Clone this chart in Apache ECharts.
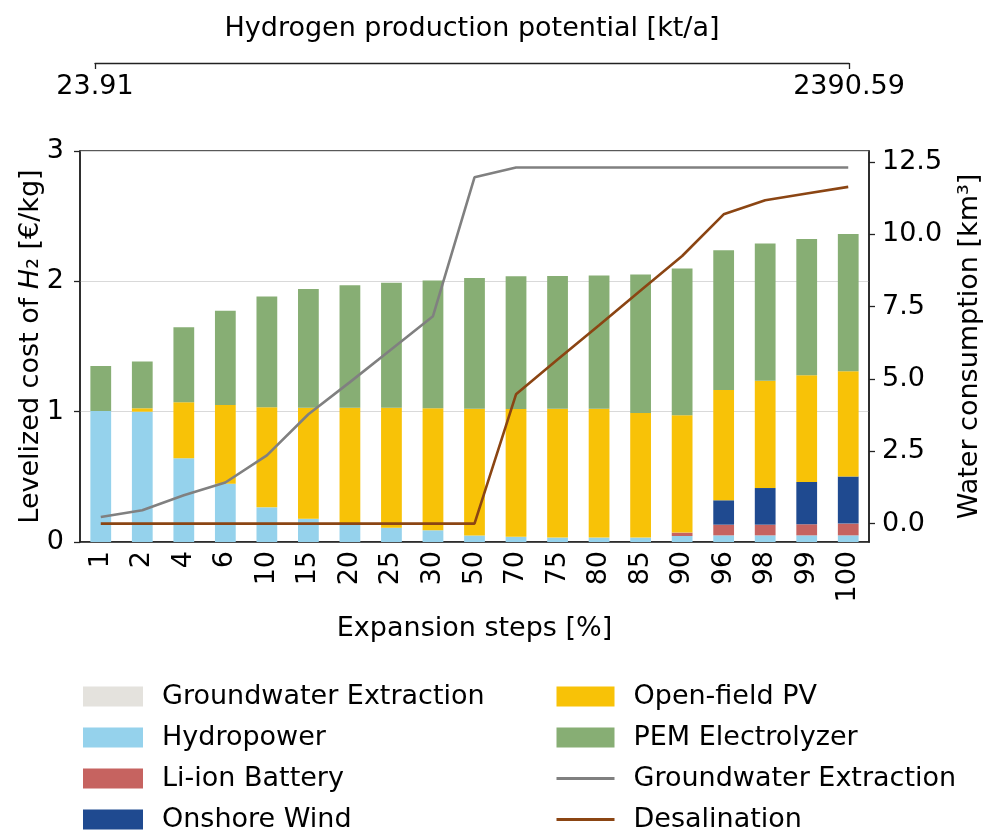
<!DOCTYPE html>
<html>
<head>
    <meta charset="utf-8">
    <title>LCOH expansion steps</title>
    <script src="https://cdn.jsdelivr.net/npm/echarts@6/dist/echarts.min.js"></script>
</head>
<body style="margin:0;background:#fff;">
    <div id="chart" style="width:983px;height:830px;"></div>

<script>
    // expansion steps [%]
    var steps = ['1', '2', '4', '6', '10', '15', '20', '25', '30', '50', '70', '75', '80', '85', '90', '96', '98', '99', '100'];

    // cost components [EUR/kg], stacked from bottom to top
    var groundwaterCost = [0, 0, 0, 0, 0, 0, 0, 0, 0, 0, 0, 0, 0, 0, 0, 0, 0, 0, 0];
    var hydropower = [1.005, 1.0, 0.642, 0.447, 0.266, 0.179, 0.14, 0.11, 0.09, 0.05, 0.04, 0.034, 0.034, 0.034, 0.046, 0.051, 0.051, 0.051, 0.051];
    var battery = [0, 0, 0, 0, 0, 0, 0, 0, 0, 0, 0, 0, 0, 0, 0.026, 0.082, 0.082, 0.085, 0.09];
    var onshoreWind = [0, 0, 0, 0, 0, 0, 0, 0, 0, 0, 0, 0, 0, 0, 0, 0.187, 0.281, 0.324, 0.361];
    var openFieldPV = [0, 0.026, 0.43, 0.604, 0.768, 0.852, 0.89, 0.92, 0.936, 0.973, 0.98, 0.989, 0.989, 0.956, 0.90, 0.846, 0.824, 0.819, 0.808];
    var pemElectrolyzer = [0.345, 0.358, 0.575, 0.724, 0.849, 0.91, 0.94, 0.96, 0.98, 1.003, 1.019, 1.018, 1.021, 1.062, 1.126, 1.072, 1.052, 1.046, 1.053];

    // water consumption [km3]
    var groundwaterWater = [0.23, 0.46, 0.98, 1.42, 2.36, 3.78, 4.89, 6.03, 7.17, 11.97, 12.31, 12.31, 12.31, 12.31, 12.31, 12.31, 12.31, 12.31, 12.31];
    var desalination = [0, 0, 0, 0, 0, 0, 0, 0, 0, 0, 4.47, 5.67, 6.86, 8.06, 9.25, 10.69, 11.18, 11.41, 11.64];

    // top axis: hydrogen production potential [kt/a]
    var h2Range = [23.91, 2390.59];
    var waterTicks = [0, 2.5, 5, 7.5, 10, 12.5];

    var font = 'DejaVu Sans';
    var fs = 27;

    function barSeries(name, data, color) {
        return {
            name: name,
            type: 'bar',
            stack: 'cost',
            barWidth: '50%',
            data: data,
            itemStyle: { color: color }
        };
    }

    // line entries in the legend: plain stroke, no marker
    var noMarker = { color: 'rgba(0,0,0,0)', borderColor: 'rgba(0,0,0,0)', borderWidth: 0 };

    var legendText = { fontSize: fs, color: '#000', lineHeight: 27, padding: [0, 0, 0, 14] };

    var chart = echarts.init(document.getElementById('chart'));
    chart.setOption({
        animation: false,
        textStyle: { fontFamily: font, color: '#000' },
        grid: [
            { left: 80, top: 151, width: 789, height: 391, outerBoundsMode: 'none', show: true, borderColor: '#222', borderWidth: 1.5 },
            { left: 95, top: 63, width: 754, height: 30, outerBoundsMode: 'none' }
        ],
        xAxis: [
            {
                type: 'category',
                data: steps,
                gridIndex: 0,
                name: 'Expansion steps [%]',
                nameLocation: 'middle',
                nameGap: 73,
                nameTextStyle: { fontSize: fs, color: '#000' },
                axisLine: { lineStyle: { color: '#222', width: 1.5 } },
                axisTick: { alignWithLabel: true, length: 6, lineStyle: { color: '#222', width: 1.3 } },
                axisLabel: { rotate: 90, fontSize: fs, color: '#000', margin: 9, interval: 0 }
            },
            {
                type: 'value',
                gridIndex: 1,
                position: 'top',
                min: h2Range[0],
                max: h2Range[1],
                name: 'Hydrogen production potential [kt/a]',
                nameLocation: 'middle',
                nameGap: 21,
                nameTextStyle: { fontSize: fs, color: '#000' },
                splitLine: { show: false },
                axisLine: { show: true, onZero: false, lineStyle: { color: '#222', width: 1.3 } },
                axisTick: { show: true, inside: true, length: 6, customValues: h2Range, lineStyle: { color: '#222', width: 1.3 } },
                axisLabel: {
                    inside: true, margin: 10, fontSize: fs, color: '#000',
                    customValues: h2Range,
                    formatter: function (v) { return v.toFixed(2); }
                }
            }
        ],
        yAxis: [
            {
                type: 'value',
                gridIndex: 0,
                min: 0,
                max: 3,
                interval: 1,
                name: 'Levelized cost of {i|H}₂ [€/kg]',
                nameLocation: 'middle',
                nameRotate: 90,
                nameGap: 36,
                nameMoveOverlap: false,
                nameTextStyle: {
                    fontSize: fs, color: '#000',
                    rich: { i: { fontSize: fs, fontStyle: 'italic', fontFamily: font, color: '#000' } }
                },
                axisLine: { show: true, lineStyle: { color: '#222', width: 1.5 } },
                axisTick: { show: true, length: 6, lineStyle: { color: '#222', width: 1.3 } },
                axisLabel: { fontSize: fs, color: '#000', margin: 16 },
                splitLine: { lineStyle: { color: '#d9d9d9', width: 1.2 } }
            },
            {
                type: 'value',
                gridIndex: 0,
                position: 'right',
                min: -0.636,
                max: 12.88,
                name: 'Water consumption [km³]',
                nameLocation: 'middle',
                nameRotate: 90,
                nameGap: 87,
                nameTextStyle: { fontSize: fs, color: '#000' },
                axisLine: { show: true, lineStyle: { color: '#222', width: 1.5 } },
                axisTick: { show: true, length: 6, customValues: waterTicks, lineStyle: { color: '#222', width: 1.3 } },
                axisLabel: {
                    fontSize: fs, color: '#000', margin: 13,
                    customValues: waterTicks,
                    formatter: function (v) { return v.toFixed(1); }
                },
                splitLine: { show: false }
            },
            { type: 'value', gridIndex: 1, show: false }
        ],
        legend: [
            {
                orient: 'vertical',
                left: 78,
                top: 678,
                height: 180,
                itemWidth: 60,
                itemHeight: 20,
                itemGap: 14,
                textStyle: legendText,
                data: [
                    { name: 'Groundwater Extraction', icon: 'rect' },
                    { name: 'Hydropower', icon: 'rect' },
                    { name: 'Li-ion Battery', icon: 'rect' },
                    { name: 'Onshore Wind', icon: 'rect' }
                ]
            },
            {
                orient: 'vertical',
                left: 550,
                top: 678,
                height: 180,
                itemWidth: 58,
                itemHeight: 20,
                itemGap: 14,
                textStyle: legendText,
                data: [
                    { name: 'Open-field PV', icon: 'rect' },
                    { name: 'PEM Electrolyzer', icon: 'rect' },
                    { name: 'Groundwater Extraction ', itemStyle: noMarker, lineStyle: { width: 3 } },
                    { name: 'Desalination', itemStyle: noMarker, lineStyle: { width: 3 } }
                ]
            }
        ],
        series: [
            barSeries('Groundwater Extraction', groundwaterCost, '#e4e2dd'),
            barSeries('Hydropower', hydropower, '#95d2ec'),
            barSeries('Li-ion Battery', battery, '#c66360'),
            barSeries('Onshore Wind', onshoreWind, '#1f4a90'),
            barSeries('Open-field PV', openFieldPV, '#f8c207'),
            barSeries('PEM Electrolyzer', pemElectrolyzer, '#87ae74'),
            {
                name: 'Groundwater Extraction ',
                type: 'line',
                yAxisIndex: 1,
                data: groundwaterWater,
                symbol: 'none',
                lineStyle: { color: '#808080', width: 2.6 },
                itemStyle: { color: '#808080' }
            },
            {
                name: 'Desalination',
                type: 'line',
                yAxisIndex: 1,
                data: desalination,
                symbol: 'none',
                lineStyle: { color: '#8b4513', width: 2.6 },
                itemStyle: { color: '#8b4513' }
            }
        ]
    });
</script>
</body>
</html>
